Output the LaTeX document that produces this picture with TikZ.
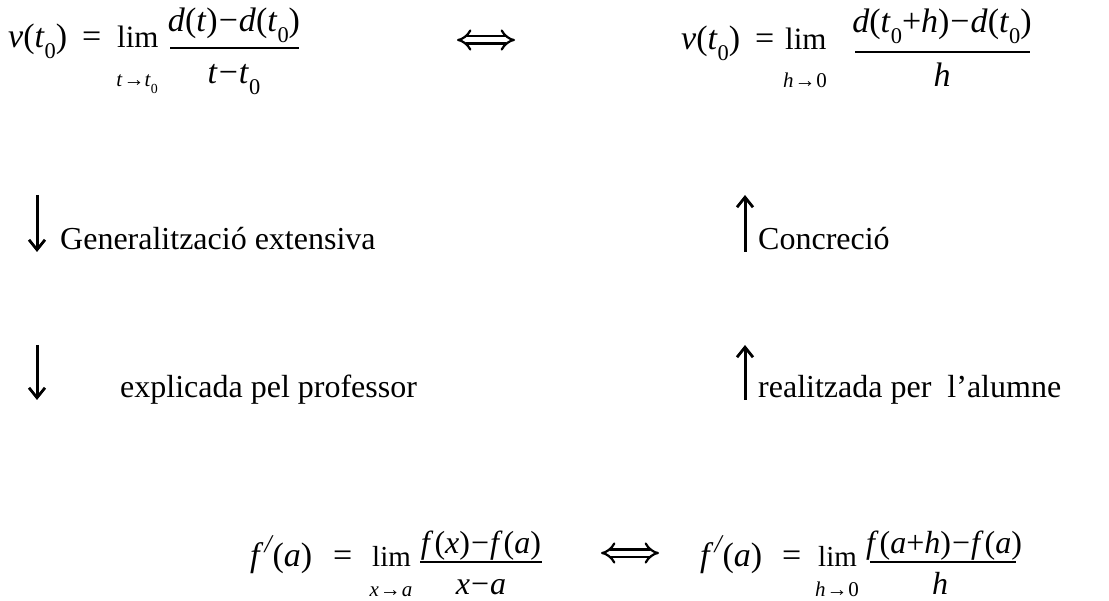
\documentclass[tikz,border=0pt]{standalone}
\usepackage{fontspec}
\setmainfont{Liberation Serif}
\usetikzlibrary{arrows.meta}
\newcommand\sub[1]{\raisebox{-0.3em}{\scalebox{0.66}{#1}}}
\newcommand\I[1]{\textit{#1}}
\newcommand\mn{\kern1pt\char"2212\kern1pt}
\newcommand\pr{\kern1pt\raisebox{0.4em}{\scalebox{0.75}{\itshape /}}\kern1pt}
\tikzset{
  fml/.style={font=\fontsize{34}{40}\selectfont, inner sep=0pt, anchor=base west},
  limx/.style={font=\fontsize{31}{36}\selectfont, inner sep=0pt, anchor=base west},
  limy/.style={font=\fontsize{29}{34}\selectfont, inner sep=0pt, anchor=base west},
  frc/.style={font=\fontsize{34}{40}\selectfont, inner sep=0pt, anchor=base},
  frcb/.style={font=\fontsize{32}{38}\selectfont, inner sep=0pt, anchor=base},
  lbl/.style={font=\fontsize{32}{38}\selectfont, inner sep=0pt, anchor=base west},
  und/.style={font=\fontsize{21}{24}\selectfont, inner sep=0pt, anchor=base},
  fbar/.style={line width=1.6pt},
  flow/.style={line width=3pt, -{Straight Barb[length=10pt,width=16pt,line width=2.8pt]}},
  eqv/.style={double distance=5pt, line width=2.2pt, {Implies}-{Implies}}
}
\begin{document}
\begin{tikzpicture}[x=1pt,y=-1pt]
\useasboundingbox (0,0) rectangle (1109,601);
% top left
\node[fml] (v1) at (8,48) {\I{v}(\I{t}\sub{0})};
\node[fml] (q1) at (82,48) {=};
\node[limx] (lim1) at (117,48) {lim};
\node[und] (u1) at (137,87) {\I{t}\kern1pt→\I{t}\sub{0}};
\node[frc] (n1) at (234,32) {\I{d}(\I{t})\mn\I{d}(\I{t}\sub{0})};
\coordinate (b1l) at (170,48); \coordinate (b1r) at (299,48);
\draw[fbar] (b1l) -- (b1r);
\node[frc] (d1) at (234,84) {\I{t}\mn\I{t}\sub{0}};
% top equivalence
\coordinate (e1l) at (457,40); \coordinate (e1r) at (515,40);
\draw[eqv] (e1l) -- (e1r);
% top right
\node[fml] (v2) at (681,50) {\I{v}(\I{t}\sub{0})};
\node[fml] (q2) at (755,50) {=};
\node[limx] (lim2) at (785,50) {lim};
\node[und] (u2) at (805,88) {\I{h}\kern1pt→\kern1pt0};
\node[frc] (n2) at (942,33) {\I{d}(\I{t}\sub{0}+\I{h})\mn\I{d}(\I{t}\sub{0})};
\coordinate (b2l) at (855,52); \coordinate (b2r) at (1030,52);
\draw[fbar] (b2l) -- (b2r);
\node[frc] (d2) at (942,87) {\I{h}};
% arrows
\coordinate (a1s) at (37,195); \coordinate (a1e) at (37,252);
\coordinate (a2s) at (37,345); \coordinate (a2e) at (37,400);
\coordinate (a3s) at (745,252); \coordinate (a3e) at (745,195);
\coordinate (a4s) at (745,400); \coordinate (a4e) at (745,345);
\draw[flow] (a1s) -- (a1e);
\draw[flow] (a2s) -- (a2e);
\draw[flow] (a3s) -- (a3e);
\draw[flow] (a4s) -- (a4e);
\node[lbl] (g) at (60,250) {Generalització extensiva};
\node[lbl] (e) at (120,398) {explicada pel professor};
\node[lbl] (c) at (758,250) {Concreció};
\node[lbl] (r) at (758,398) {realitzada per\ \ l’alumne};
% bottom left
\node[fml] (f1) at (250,566) {\I{f}\pr(\I{a})};
\node[fml] (q3) at (333,566) {=};
\node[limy] (lim3) at (372,566) {lim};
\node[und] (u3) at (391,596) {\I{x}\kern1pt→\kern1pt\I{a}};
\node[frcb] (n3) at (481,553) {\I{f}\kern1pt(\I{x})\mn\I{f}\kern1pt(\I{a})};
\coordinate (b3l) at (420,562); \coordinate (b3r) at (542,562);
\draw[fbar] (b3l) -- (b3r);
\node[frcb] (d3) at (481,594) {\I{x}\mn\I{a}};
% bottom equivalence
\coordinate (e2l) at (601,553); \coordinate (e2r) at (659,553);
\draw[eqv] (e2l) -- (e2r);
% bottom right
\node[fml] (f2) at (700,566) {\I{f}\pr(\I{a})};
\node[fml] (q4) at (782,566) {=};
\node[limy] (lim4) at (818,566) {lim};
\node[und] (u4) at (837,596) {\I{h}\kern1pt→\kern1pt0};
\node[frcb] (n4) at (944,553) {\I{f}\kern1pt(\I{a}+\I{h})\mn\I{f}\kern1pt(\I{a})};
\coordinate (b4l) at (870,562); \coordinate (b4r) at (1016,562);
\draw[fbar] (b4l) -- (b4r);
\node[frcb] (d4) at (940,594) {\I{h}};
\end{tikzpicture}
\end{document}
